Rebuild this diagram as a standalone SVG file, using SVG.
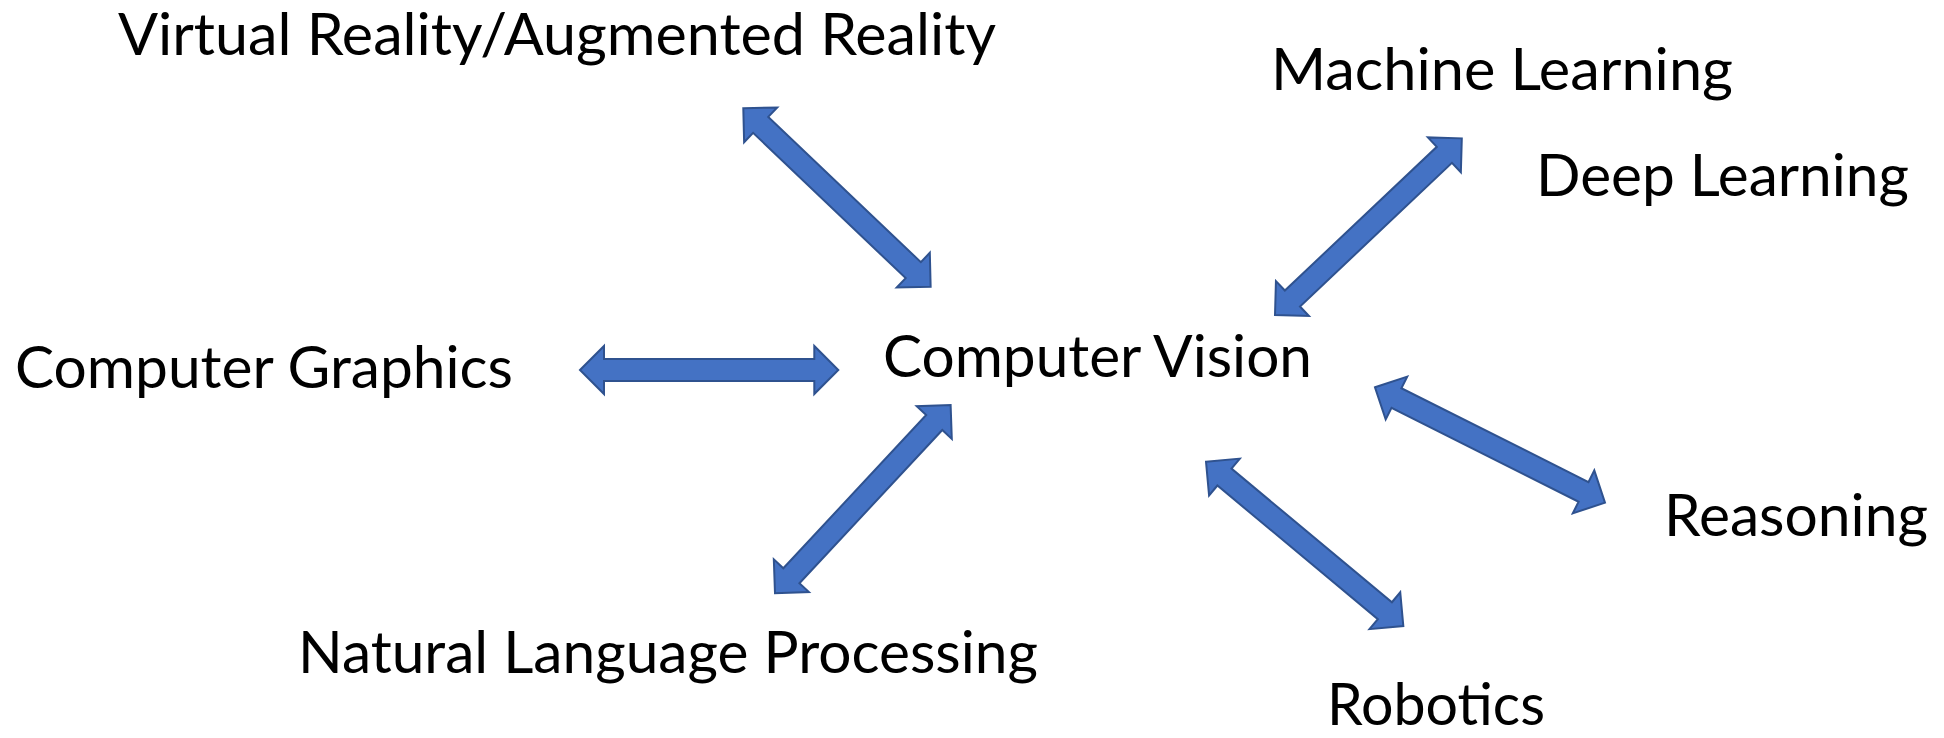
<svg xmlns="http://www.w3.org/2000/svg" width="1944" height="738" viewBox="0 0 1944 738">
<style>
.bg{fill:#ffffff}
.lbl{font-family:Lato,"Open Sans","Liberation Sans",sans-serif;font-size:58px;fill:#000000}
.arr{fill:#4472C4;stroke:#2F528F;stroke-width:2;stroke-linejoin:miter}
</style>
<rect class="bg" x="0" y="0" width="1944" height="738"/>
<g id="connectors">
<path class="arr" transform="translate(743.3,108.3) rotate(43.6)" d="M0,0 L24,-24 L24,-11 L234.7,-11 L234.7,-24 L258.7,0 L234.7,24 L234.7,11 L24,11 L24,24 Z"/>
<path class="arr" transform="translate(1275,315) rotate(-43.4)" d="M0,0 L24,-24 L24,-11 L233.1,-11 L233.1,-24 L257.1,0 L233.1,24 L233.1,11 L24,11 L24,24 Z"/>
<path class="arr" transform="translate(580,370)" d="M0,0 L24,-24 L24,-11 L234.3,-11 L234.3,-24 L258.3,0 L234.3,24 L234.3,11 L24,11 L24,24 Z"/>
<path class="arr" transform="translate(775,593.3) rotate(-47)" d="M0,0 L24,-24 L24,-11 L233.5,-11 L233.5,-24 L257.5,0 L233.5,24 L233.5,11 L24,11 L24,24 Z"/>
<path class="arr" transform="translate(1375,387.3) rotate(26.64)" d="M0,0 L24,-24 L24,-11 L233.3,-11 L233.3,-24 L257.3,0 L233.3,24 L233.3,11 L24,11 L24,24 Z"/>
<path class="arr" transform="translate(1206,461.7) rotate(39.79)" d="M0,0 L24,-24 L24,-11 L232.8,-11 L232.8,-24 L256.8,0 L232.8,24 L232.8,11 L24,11 L24,24 Z"/>
</g>
<g id="node-vr"><text class="lbl" x="118" y="55" textLength="878" lengthAdjust="spacingAndGlyphs">Virtual Reality/Augmented Reality</text></g>
<g id="node-ml"><text class="lbl" x="1271" y="90" textLength="462" lengthAdjust="spacingAndGlyphs">Machine Learning</text></g>
<g id="node-dl"><text class="lbl" x="1536" y="196" textLength="373" lengthAdjust="spacingAndGlyphs">Deep Learning</text></g>
<g id="node-cg"><text class="lbl" x="15" y="388" textLength="498" lengthAdjust="spacingAndGlyphs">Computer Graphics</text></g>
<g id="node-cv"><text class="lbl" x="883" y="377" textLength="429" lengthAdjust="spacingAndGlyphs">Computer Vision</text></g>
<g id="node-reasoning"><text class="lbl" x="1664" y="536" textLength="264" lengthAdjust="spacingAndGlyphs">Reasoning</text></g>
<g id="node-nlp"><text class="lbl" x="298" y="673" textLength="740" lengthAdjust="spacingAndGlyphs">Natural Language Processing</text></g>
<g id="node-robotics"><text class="lbl" x="1327" y="725" textLength="218" lengthAdjust="spacingAndGlyphs">Robotics</text></g>
</svg>
